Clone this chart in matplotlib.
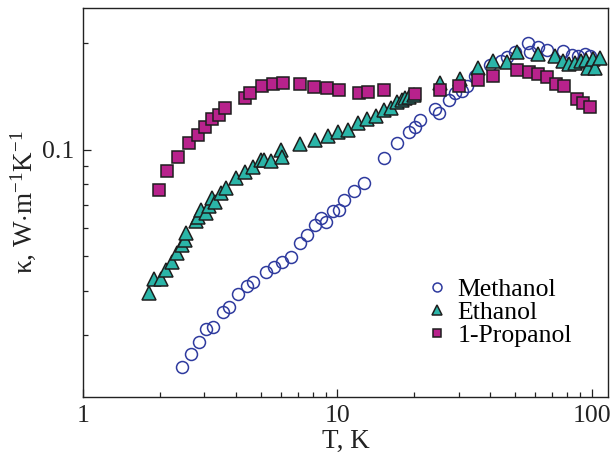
import matplotlib
matplotlib.use("Agg")
import matplotlib.pyplot as plt
from matplotlib.ticker import FixedLocator, NullFormatter, FixedFormatter

plt.rcParams['font.family'] = ['Liberation Serif', 'DejaVu Serif']
plt.rcParams['mathtext.fontset'] = 'custom'
plt.rcParams['mathtext.rm'] = 'Liberation Serif'
plt.rcParams['mathtext.it'] = 'Liberation Serif:italic'

# data
T_meth = [2.45, 2.66, 2.86, 3.05, 3.25, 3.56, 3.76, 4.08, 4.42, 4.67, 5.25, 5.65, 6.08, 6.59,
          7.15, 7.62, 8.19, 8.65, 9.05, 9.65, 10.2, 10.6, 11.6, 12.7, 15.2, 17.2, 19.2, 20.3,
          21.2, 24.3, 25.2, 27.4, 29.1, 30.8, 32.5, 34.9, 39.7, 44.2, 46.7, 49.8, 56.0, 57.0,
          61.3, 66.5, 76.9, 83.4, 88.1, 93.8, 98.2]
k_meth = [0.0243, 0.0264, 0.0286, 0.0311, 0.0315, 0.0348, 0.0359, 0.0391, 0.0412, 0.0423,
          0.0451, 0.0466, 0.0482, 0.0498, 0.0545, 0.0574, 0.0613, 0.0642, 0.0625, 0.0672,
          0.0676, 0.0722, 0.0765, 0.0806, 0.0949, 0.1047, 0.1124, 0.1162, 0.1216, 0.1307,
          0.1273, 0.1386, 0.1450, 0.1469, 0.1518, 0.1621, 0.1741, 0.1787, 0.1834, 0.1895,
          0.2010, 0.1895, 0.1958, 0.1920, 0.1908, 0.1858, 0.1846, 0.1871, 0.1846]

T_eth = [1.82, 1.90, 2.03, 2.12, 2.24, 2.35, 2.45, 2.52, 2.54, 2.79, 2.84, 2.92, 3.05, 3.13,
         3.22, 3.31, 3.49, 3.66, 4.00, 4.34, 4.67, 5.02, 5.16, 5.50, 6.02, 6.08, 7.15, 8.19,
         9.22, 10.1, 11.05, 12.1, 13.1, 14.2, 15.2, 16.2, 17.1, 17.9, 18.5, 19.2, 20.1, 25.4,
         30.5, 35.6, 40.8, 46.3, 51.1, 61.8, 71.5, 76.9, 81.2, 85.7, 90.5, 94.7, 96.5, 100.9,
         102.7, 107.5]
k_eth = [0.0393, 0.0431, 0.0431, 0.0457, 0.0482, 0.0511, 0.0538, 0.0556, 0.0582, 0.0629,
         0.0646, 0.0676, 0.0663, 0.0694, 0.0731, 0.0712, 0.0755, 0.0780, 0.0833, 0.0866,
         0.0895, 0.0937, 0.0937, 0.0931, 0.1000, 0.0955, 0.1040, 0.1067, 0.1096, 0.1124,
         0.1139, 0.1193, 0.1224, 0.1248, 0.1298, 0.1315, 0.1368, 0.1386, 0.1404, 0.1413,
         0.1432, 0.1548, 0.1589, 0.1708, 0.1787, 0.1776, 0.1895, 0.1871, 0.1846, 0.1787,
         0.1753, 0.1764, 0.1787, 0.1799, 0.1708, 0.1811, 0.1708, 0.1823]

T_prop = [1.99, 2.14, 2.37, 2.61, 2.84, 3.02, 3.22, 3.43, 3.62, 4.34, 4.54, 5.07, 5.60, 6.13,
          7.15, 8.12, 9.14, 10.2, 12.2, 13.2, 15.3, 20.3, 25.4, 30.2, 35.6, 40.8, 51.1, 56.5,
          61.8, 66.5, 72.2, 77.6, 87.3, 92.2, 98.2]
k_prop = [0.0770, 0.0872, 0.0955, 0.1047, 0.1103, 0.1162, 0.1224, 0.1256, 0.1315, 0.1404,
          0.1450, 0.1518, 0.1538, 0.1548, 0.1538, 0.1508, 0.1498, 0.1479, 0.1450, 0.1459,
          0.1479, 0.1441, 0.1479, 0.1518, 0.1579, 0.1621, 0.1685, 0.1663, 0.1642, 0.1610,
          0.1538, 0.1518, 0.1395, 0.1359, 0.1324]

x_ticks = [1, 10, 100]
x_labels = ["1", "10", "100"]
y_ticks = [0.1]
y_labels = ["0.1"]

fig = plt.figure(figsize=(6.13, 4.58), dpi=100)
ax = fig.add_axes([0.1354, 0.1332, 0.8564, 0.8493])

ax.plot(T_meth, k_meth, 'o', ms=8.6, mfc='none', mec='#2e3a9e', mew=1.1, label='Methanol')
ax.plot(T_eth, k_eth, '^', ms=10.5, mfc='#2bb5a8', mec='#1e1e1e', mew=1.1, label='Ethanol')
ax.plot(T_prop, k_prop, 's', ms=8.6, mfc='#b8228c', mec='#1e1e1e', mew=1.1, label='1-Propanol')

ax.set_xscale('log')
ax.set_yscale('log')
ax.set_xlim(1, 116)
ax.set_ylim(0.02, 0.252)

ax.xaxis.set_major_locator(FixedLocator(x_ticks))
ax.xaxis.set_major_formatter(FixedFormatter(x_labels))
ax.xaxis.set_minor_locator(FixedLocator([i * d for d in (1, 10) for i in range(2, 10)]))
ax.xaxis.set_minor_formatter(NullFormatter())
ax.yaxis.set_major_locator(FixedLocator(y_ticks))
ax.yaxis.set_major_formatter(FixedFormatter(y_labels))
ax.yaxis.set_minor_locator(FixedLocator([0.03, 0.04, 0.05, 0.06, 0.07, 0.08, 0.09, 0.2]))
ax.yaxis.set_minor_formatter(NullFormatter())

ax.tick_params(which='both', direction='in', width=0.9, labelsize=18.5, colors='#222222')
ax.tick_params(which='major', length=6, pad=6)
ax.tick_params(which='minor', length=3.5)
for s in ax.spines.values():
    s.set_linewidth(1.0)
    s.set_color('#222222')

ax.set_xlabel('T, K', fontsize=19.5, color='#222222', labelpad=1)
ax.set_ylabel(r'κ, W$\cdot$m$^{-1}$K$^{-1}$', fontsize=19.5, color='#222222', labelpad=3)

ax.legend(loc='center left', bbox_to_anchor=(0.655, 0.218), frameon=False, fontsize=18.5,
          markerscale=0.75, handlelength=0.8, handletextpad=0.4, labelspacing=0.0,
          borderpad=0, borderaxespad=0)

fig.savefig('out.png', dpi=100)
